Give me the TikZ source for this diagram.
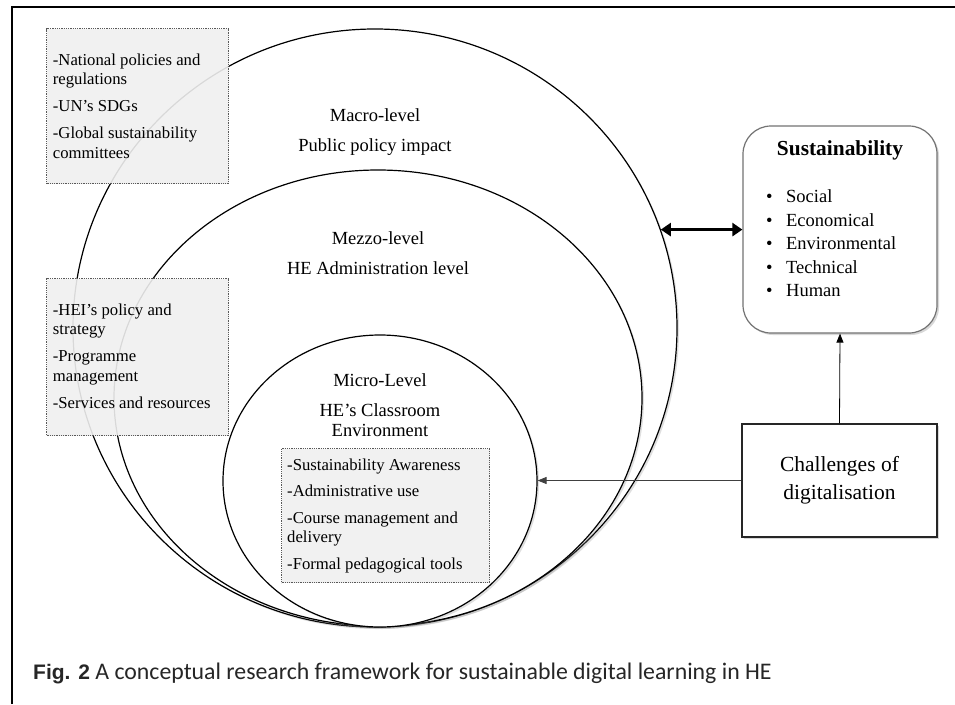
\documentclass[tikz,border=0pt]{standalone}
\usepackage{fontspec}
\setmainfont{Liberation Serif}
\newfontfamily\capfont{Carlito}
\newfontfamily\figfont{Liberation Sans}
\usetikzlibrary{shapes.geometric,arrows.meta,shadows}
\begin{document}
\begin{tikzpicture}[x=1pt,y=-1pt,
  lvl/.style={ellipse, draw, line width=1.2pt, fill=white, inner sep=0pt,
    drop shadow={shadow xshift=2pt,shadow yshift=-2pt,opacity=0.25}},
  graybox/.style={draw=black!65, dash pattern=on 0.9pt off 0.9pt, line width=1pt,
    fill=black!6, fill opacity=0.9, inner sep=0pt, anchor=north west},
  boxtext/.style={font=\fontsize{16.7}{19.5}\selectfont, align=left, anchor=north west, inner sep=0pt},
  lvltext/.style={font=\fontsize{18.5}{30}\selectfont, align=center, inner sep=0pt},
  susbox/.style={draw=black!55, line width=1.2pt, rounded corners=28pt, fill=white,
    drop shadow={shadow xshift=2pt,shadow yshift=-2pt,opacity=0.3}},
  chalbox/.style={draw=black!85, line width=1.3pt, fill=white,
    drop shadow={shadow xshift=2pt,shadow yshift=-2pt,opacity=0.3}},
  thinarrow/.style={line width=0.8pt, -{Triangle[length=9pt,width=7pt]}},
  bigarrow/.style={line width=3pt, {Triangle[length=10pt,width=13pt]}-{Triangle[length=10pt,width=13pt]}}
]
\useasboundingbox (0,0) rectangle (955,704);
\fill[white] (0,0) rectangle (955,704);
% frame
\draw[line width=2pt] (12,704) -- (12,7) -- (955,7);

% level ellipses
\node[lvl, minimum width=604pt, minimum height=598pt] (outer) at (375,328) {};
\node[lvl, minimum width=528pt, minimum height=456pt] (mezzo) at (378,398) {};
\node[lvl, minimum width=314pt, minimum height=292pt] (micro) at (380,481) {};

% level labels
\node[lvltext] (macrolbl) at (375,132) {Macro-level\\Public policy impact};
\node[lvltext] (mezzolbl) at (378,253) {Mezzo-level\\HE Administration level};
\node[lvltext, font=\fontsize{18.5}{20}\selectfont] (microlbl) at (380,405) {Micro-Level\\[10pt]HE’s Classroom\\Environment};

% gray boxes
\node[graybox, minimum width=182pt, minimum height=155pt] (box1) at (46,28) {};
\node[boxtext] (box1txt) at (52.7,53.5) {-National policies and\\regulations\\[7.5pt]-UN’s SDGs\\[7.5pt]-Global sustainability\\committees};

\node[graybox, minimum width=182pt, minimum height=157pt] (box2) at (46,278) {};
\node[boxtext] (box2txt) at (52.7,303.5) {-HEI’s policy and\\strategy\\[7.5pt]-Programme\\management\\[7.5pt]-Services and resources};

\node[graybox, minimum width=208pt, minimum height=134pt] (box3) at (281,448) {};
\node[boxtext] (box3txt) at (287,458.5) {-Sustainability Awareness\\[7pt]-Administrative use\\[7pt]-Course management and\\delivery\\[7pt]-Formal pedagogical tools};

% sustainability box
\node[susbox, minimum width=194pt, minimum height=207pt] (sus) at (840,229.5) {};
\node[font=\fontsize{21.4}{24}\selectfont\bfseries, inner sep=0pt] (sustitle) at (840,150) {Sustainability};
\node[anchor=north west, inner sep=0pt, align=left, font=\fontsize{18.5}{23.5}\selectfont] (suslist) at (766,189.5)
  {\makebox[20pt][l]{•}Social\\\makebox[20pt][l]{•}Economical\\\makebox[20pt][l]{•}Environmental\\\makebox[20pt][l]{•}Technical\\\makebox[20pt][l]{•}Human};

% challenges box
\node[chalbox, minimum width=195pt, minimum height=113pt, align=center,
  font=\fontsize{21.5}{28}\selectfont] (chal) at (839.5,480.5) {Challenges of\\digitalisation};

% connectors
\draw[bigarrow] (outer.19.2) -- (outer.19.2 -| sus.west);
\draw[thinarrow] (chal.north) -- (sus.south);
\draw[thinarrow, black!75] (chal.west) -- (chal.west -| micro.east);

% caption
\node[anchor=base west, inner sep=0pt, text=black!85] (caption) at (33,679)
  {{\figfont\bfseries\fontsize{21}{25}\selectfont Fig. 2}{\capfont\fontsize{23.8}{28}\selectfont{} A conceptual research framework for sustainable digital learning in HE}};
\end{tikzpicture}
\end{document}
